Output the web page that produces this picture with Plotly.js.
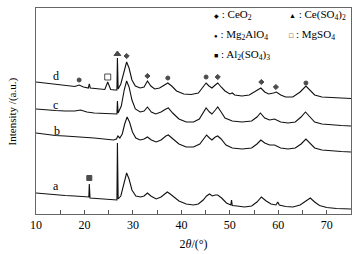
<!DOCTYPE html>
<html><head><meta charset="utf-8">
<script src="https://cdn.plot.ly/plotly-3.0.1.min.js"></script>
<style>html,body{margin:0;padding:0;background:#fff;}#chart{width:359px;height:254px;}</style>
</head><body><div id="chart"></div>
<script>
// 2θ (deg) and intensity (a.u.), each pattern already offset vertically
const aX = [10,12,14,16,18,20,20.9,21.0,21.15,22.5,24,25.5,26.7,26.8,26.95,27.5,28.2,28.7,29.2,29.8,30.6,31.6,32.3,33.0,33.7,34.8,35.8,36.5,37.1,37.7,38.5,39.5,41,42.5,43.5,44.5,45.2,45.8,46.4,47.0,47.5,48.3,49.3,50.2,50.35,50.5,51.5,53,54.5,55.6,56.5,57.5,58.5,59.5,59.9,60.2,61.5,63,64.5,65.7,66.6,67.5,68.5,70,72,75];
const aY = [21,20,19,18.5,18,17,17,30,16,15.5,15,14,14,71,15,18,32,41,35,24,18,17,18,21,18,15,17,20,22,20,17,13,10,9,10,14,18,20,18,19,19,16,11,9,14,8.5,8,7,8,12,17,13,10,9,12,9,7.5,7,9,13,16,12,8.5,6.5,5.5,5];

const bX = [10,12,14,16,18,20,22,24,26,26.6,26.9,27.3,27.8,28.3,28.8,29.3,29.9,30.6,31.5,32.3,33.0,33.8,34.8,35.8,36.8,37.3,38.2,39.5,41,42.5,43.8,44.6,45.2,45.8,46.3,47.0,47.5,48.2,49.2,50.5,52.5,54.5,55.6,56.4,57.2,58.2,59.2,60.5,62,63.5,64.7,65.7,66.6,67.5,69,71,73,75];
const bY = [81,79.5,78.5,78,77.5,77,76,75,74,75,78,76,80,90,97,92,82,76,74,75,77,74,72,74,78,79,75,70,67,67,70,75,79,76,74,77,78,75,69,66,65,66,70,74,71,69,69,66,65,66,70,75,71,66,64,63,62.5,62];

const cX = [10,12,14,16,18,19.2,20.5,22,24,26,26.7,26.8,26.95,27.6,28.2,28.7,29.2,29.8,30.5,31.5,32.3,33.0,33.8,34.7,35.8,36.8,37.3,38.2,39.5,41,42.5,43.7,44.5,45.1,45.8,46.3,47.0,47.5,48.2,49,50.5,52.5,54.5,55.6,56.3,57.2,58.2,59.2,60.5,62,63.5,64.7,65.6,66.5,67.5,69,71,73,75];
const cY = [105,104,103.5,103,103,104,102,101,100.5,100,100,113,101,108,124,133,127,114,105,102,103,107,102,100,102,105,106,101,95,92,92,95,101,106,102,100,104,107,102,96,93,92,93,97,101,96,94,95,92,91,92,97,102,97,92,90,89,88.5,88];

const dX = [10,12,14,16,18,18.9,19.8,20.8,21.0,21.2,23,24.2,24.8,25.4,26.3,26.7,26.8,26.95,27.5,28.2,28.7,29.2,29.8,30.5,31.5,32.3,33.0,33.7,34.5,35.5,36.5,37.2,38,39,40.5,42,43.5,44.5,45.1,45.7,46.3,47.0,47.5,48.2,49,50,50.5,51,52.5,54,55.5,56.4,57.2,58,59,59.6,60.5,61.5,63,64.5,65.7,66.5,67.5,69,71,73,75];
const dY = [132,131,130,129,127.5,129,127,126,130,126,125,124.5,132,124.5,124,124,156,125,130,144,152,146,134,128,126,127,133,128,125,126,129,131,128,123,120,119.5,121,127,131,128,126,129,131,127,123,120,121,119,118,119,123,126,122,120,121,122,119,117,117,122,128,124,119,117,116.5,116,115.5];

// phase marks above the peaks
const markX = [18.9,37.2,45.1,65.7, 28.7,33.0,47.5,56.5,59.5, 26.8, 24.8, 21.0];
const markY = [134,136,137,131, 158,138,137,132,127, 160, 137, 36];
const markSym = ['circle','circle','circle','circle','diamond','diamond','diamond','diamond','diamond','triangle-up','square-open','square'];
const markSize = [4,4,4,4,4,4,4,4,4,6,6,5];

// curve labels
const labelText = ['a','b','c','d'];
const labelX = [14.1,14.3,14.1,14.1];
const labelY = [28,83,109,138];

const xTicks = [10,20,30,40,50,60,70];

const serif = 'Liberation Serif, Times New Roman, serif';
const line = {color:'#111', width:1.1};
const traces = [
  {x:aX, y:aY, mode:'lines', line:line, hoverinfo:'skip'},
  {x:bX, y:bY, mode:'lines', line:line, hoverinfo:'skip'},
  {x:cX, y:cY, mode:'lines', line:line, hoverinfo:'skip'},
  {x:dX, y:dY, mode:'lines', line:line, hoverinfo:'skip'},
  {x:markX, y:markY, mode:'markers', hoverinfo:'skip',
   marker:{symbol:markSym, size:markSize, color:'#000', line:{color:'#000', width:1}}}
];

const annotations = labelText.map((t,i)=>({x:labelX[i], y:labelY[i], xref:'x', yref:'y', text:t, showarrow:false,
  font:{family:serif, size:12, color:'#000'}}));

const legendRows = [
  {x:0.558, y:0.966, text:'<span style="font-size:6px">◆</span> : CeO<sub>2</sub>'},
  {x:0.797, y:0.966, text:'<span style="font-size:7px">▲</span> : Ce(SO<sub>4</sub>)<sub>2</sub>'},
  {x:0.558, y:0.869, text:'<span style="font-size:6px">●</span> : Mg<sub>2</sub>AlO<sub>4</sub>'},
  {x:0.797, y:0.869, text:'<span style="font-size:7px">□</span> : MgSO<sub>4</sub>'},
  {x:0.558, y:0.772, text:'<span style="font-size:7px">■</span> : Al<sub>2</sub>(SO<sub>4</sub>)<sub>3</sub>'}
];
legendRows.forEach(r=>annotations.push({x:r.x, y:r.y, xref:'paper', yref:'paper', xanchor:'left', yanchor:'middle',
  text:r.text, showarrow:false, font:{family:serif, size:11, color:'#000'}}));

annotations.push({x:-0.075, y:0.5, xref:'paper', yref:'paper', xanchor:'center', yanchor:'middle',
  text:'Intensity /(a.u.)', textangle:-90, showarrow:false, font:{family:serif, size:11, color:'#000'}});

const layout = {
  width:359, height:254,
  margin:{l:36, r:8, t:8, b:40},
  paper_bgcolor:'#fff', plot_bgcolor:'#fff',
  showlegend:false,
  xaxis:{range:[10,75], tickvals:xTicks, ticks:'inside', ticklen:4, tickcolor:'#555',
    minor:{dtick:5, ticks:'inside', ticklen:4, tickcolor:'#555'},
    showline:true, linecolor:'#666', linewidth:1, mirror:true, showgrid:false, zeroline:false,
    tickfont:{family:serif, size:12, color:'#000'},
    title:{text:'2<i>θ</i>/(°)', font:{family:serif, size:12, color:'#000'}, standoff:8}},
  yaxis:{range:[0,206], showticklabels:false, ticks:'', showline:true, linecolor:'#666', linewidth:1, mirror:true,
    showgrid:false, zeroline:false},
  annotations:annotations
};
Plotly.newPlot('chart', traces, layout, {staticPlot:true, displayModeBar:false});
</script></body></html>
